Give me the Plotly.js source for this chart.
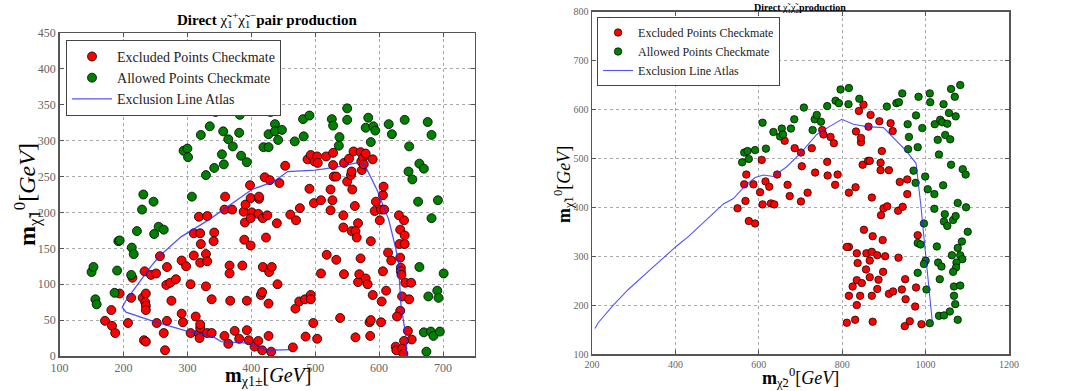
<!DOCTYPE html>
<html><head><meta charset="utf-8">
<script src="https://cdn.plot.ly/plotly-3.0.1.min.js"></script>
<style>html,body{margin:0;padding:0;background:#fff}#c{width:1070px;height:391px}</style>
</head><body><div id="c"></div>
<script>
// ---------- Left panel: chargino pair production ----------
const leftExcludedX = [171,181,182,187,194,207,212,214,230,233,235,234,235,235,232,235,243,251,252,257,263,265,268,267,273,268,275,282,291,293,291,298,305,305,310,310,313,318,319,320,320,320,321,318,320,329,329,331,331,331,338,338,342,341,359,358,358,364,366,366,367,370,374,381,386,388,390,389,391,393,393,396,399,398,401,399,399,405,411,411,412,412,415,417,417,418,418,421,423,425,427,428,427,429,432,431,440,441,444,453,461,465,469,470,475,476,485,488,484,491,493,493,493,498,497,499,503,504,503,509,509,518,517,524,524,527,528,528,529,533,533,539,544,544,545,545,550,553,556,557,557,558,560,562,563,567,563,565,567,569,571,571,572,573,575,576,579,579,582,585,586,587,587,590,590,595,593,604,601,603,603,606,607,606,611,608,614,619,632,631,633,633,634,634,635,633,628,636,639,640,640,641,647,645,651,650,639,626,627,636,638];
const leftExcludedY = [49,64,42,32,87,46,81,109,81,118,87,75,70,64,22,20,113,115,46,139,32,8,124,99,102,49,77,107,59,47,133,125,100,32,171,140,55,31,25,39,44,130,156,194,171,97,142,195,132,32,79,32,172,160,222,204,28,17,126,115,77,204,35,24,126,201,186,162,211,77,36,22,220,238,200,154,192,13,198,21,219,222,85,89,8,192,124,249,165,196,28,117,73,245,124,6,185,100,241,265,197,12,66,189,76,206,27,274,79,233,85,79,280,213,46,271,278,269,24,115,217,141,278,232,203,217,283,266,250,250,134,53,196,179,114,269,243,275,252,257,174,232,285,209,26,185,174,165,103,114,136,284,271,259,276,267,282,108,100,47,28,160,50,85,274,215,202,76,189,47,204,224,236,118,91,204,144,133,156,196,176,137,123,118,113,63,55,83,189,168,156,102,79,35,23,102,21,13,8,10,3];
const leftAllowedX = [150,153,156,158,186,190,192,194,213,216,212,221,231,229,247,255,248,263,294,300,301,307,321,329,335,344,342,354,356,357,364,369,371,382,381,384,393,419,427,427,430,437,437,442,448,468,481,482,491,526,528,538,537,550,550,583,579,591,594,587,615,620,640,647,646,652,676,682,663,670,661,692,682,663,701,677,691,693,670,681,685,695,674];
const leftAllowedY = [117,124,79,72,88,119,160,161,151,142,113,174,225,204,215,180,170,176,286,289,277,222,308,252,320,340,262,281,313,267,302,348,292,336,311,279,270,291,291,309,340,323,313,301,315,299,330,306,335,330,321,305,293,345,329,332,318,320,314,298,323,309,329,292,257,246,326,308,268,261,215,217,192,124,115,83,91,81,33,34,28,34,6];
const leftLineX = [643,643,641,634,630,626,615,597,577,565,533,500,457,435,401,371,334,290,256,243,205,198,204,248,298,340,353,395,418,426,462];
const leftLineY = [2,13,32,73,132,150,190,231,267,269,263,259,257,243,232,213,190,166,139,125,79,68,61,48,35,27,20,18,11,8,9];

// ---------- Right panel: chargino-neutralino production ----------
const rightExcludedX = [549,568,565,570,576,591,587,603,607,609,616,625,629,637,644,662,669,674,686,701,701,703,717,727,735,752,755,764,765,772,780,783,789,816,816,832,833,840,845,845,849,851,863,862,866,868,871,852,873,889,892,892,895,893,899,897,908,912,916,921,934,938,945,956,956,981,811,835,858,871,884,903,935,866,837,857,866,887,898,951,835,825,847,884,816,843,871,835,912,922,943,952,977,975,811,831,873,950,962,990];
const rightExcludedY = [398,413,447,467,372,367,447,431,497,406,453,442,408,406,467,536,446,423,521,412,512,484,430,521,471,558,549,493,465,544,531,446,467,430,319,441,555,597,533,542,487,610,565,495,495,589,420,354,341,576,491,476,515,384,398,333,402,476,572,556,393,452,401,457,427,343,319,306,306,309,302,300,297,291,286,273,257,252,268,253,251,238,245,233,219,219,219,200,223,228,232,212,236,197,164,170,166,157,167,161];
const rightAllowedX = [560,565,573,576,591,609,617,635,651,655,658,677,685,708,729,734,739,749,764,784,792,796,816,815,841,907,930,936,944,957,960,977,983,958,981,992,1010,1011,971,976,999,1005,1021,1021,1022,1029,1032,1035,1040,1042,1043,1047,1052,1056,1059,1061,1061,1072,1070,1083,1089,1096,1097,1077,1046,1044,1052,1066,1072,1101,1087,1077,1027,1063,1083,1088,1074,1073,1030,1038,1066,996,981,988,1000,996,981,1002,1034,1068,1083,1068,1071,1058,1032,1044,1077,1010];
const rightAllowedY = [492,512,515,499,517,573,520,554,545,561,549,561,580,604,558,580,589,575,607,618,613,641,644,611,622,606,613,615,633,570,544,588,626,519,523,562,633,615,475,450,463,437,427,397,570,538,508,579,574,445,611,548,571,593,539,642,487,586,626,650,478,467,400,409,386,371,362,374,382,350,330,317,320,302,302,294,287,277,287,279,268,367,327,324,291,284,266,232,253,238,240,219,202,187,178,179,170,163];
const rightLineX = [207,215,251,287,343,403,431,487,515,539,567,591,611,635,667,699,739,771,799,827,859,899,927,955,977,983,989,995,1003,1013,1016];
const rightLineY = [152,164,200,232,275,321,340,384,407,418,444,461,466,463,483,510,549,566,580,570,565,563,539,514,490,449,401,347,279,204,166];

const RED = '#ff0000', GREEN = '#008000', BLUE = 'rgba(40,40,255,0.8)';
const serif = '"Liberation Serif", "DejaVu Serif", serif';

const traces = [
  {x:leftExcludedX, y:leftExcludedY, type:'scatter', mode:'markers', name:'Excluded Points Checkmate',
   marker:{color:RED, size:9, line:{color:'#000', width:0.8}}, xaxis:'x', yaxis:'y', legend:'legend'},
  {x:leftAllowedX, y:leftAllowedY, type:'scatter', mode:'markers', name:'Allowed Points Checkmate',
   marker:{color:GREEN, size:9, line:{color:'#000', width:0.8}}, xaxis:'x', yaxis:'y', legend:'legend'},
  {x:leftLineX, y:leftLineY, type:'scatter', mode:'lines', name:'Exclusion Line Atlas',
   line:{color:BLUE, width:1.3}, xaxis:'x', yaxis:'y', legend:'legend'},
  {x:rightExcludedX, y:rightExcludedY, type:'scatter', mode:'markers', name:'Excluded Points Checkmate',
   marker:{color:RED, size:7.5, line:{color:'#000', width:0.7}}, xaxis:'x2', yaxis:'y2', legend:'legend2'},
  {x:rightAllowedX, y:rightAllowedY, type:'scatter', mode:'markers', name:'Allowed Points Checkmate',
   marker:{color:GREEN, size:7.5, line:{color:'#000', width:0.7}}, xaxis:'x2', yaxis:'y2', legend:'legend2'},
  {x:rightLineX, y:rightLineY, type:'scatter', mode:'lines', name:'Exclusion Line Atlas',
   line:{color:BLUE, width:1.1}, xaxis:'x2', yaxis:'y2', legend:'legend2'}
];

function ax(extra){
  return Object.assign({
    showline:true, mirror:'ticks', linecolor:'#555', linewidth:1.5,
    ticks:'inside', ticklen:4, tickcolor:'#555',
    showgrid:true, gridcolor:'#aaa', griddash:'dot', gridwidth:1,
    zeroline:false, tickfont:{family:serif, size:12, color:'#666'}
  }, extra);
}

const layout = {
  width:1070, height:391, margin:{l:0,r:0,t:0,b:0},
  paper_bgcolor:'#fff', plot_bgcolor:'#fff', showlegend:true,
  xaxis: ax({domain:[0.0557,0.4439], range:[100,750], dtick:100, tick0:100, anchor:'y'}),
  yaxis: ax({domain:[0.0895,0.9156], range:[0,450], dtick:50, tick0:0, anchor:'x'}),
  xaxis2: ax({domain:[0.5533,0.943], range:[200,1200], dtick:200, tick0:200, anchor:'y2',
              tickfont:{family:serif, size:10, color:'#666'}}),
  yaxis2: ax({domain:[0.0946,0.970], range:[100,800], dtick:100, tick0:100, anchor:'x2',
              tickfont:{family:serif, size:10, color:'#666'}}),
  legend:{x:0.0617, y:0.898, xanchor:'left', yanchor:'top', bgcolor:'#fff', bordercolor:'#444', borderwidth:1,
          font:{family:serif, size:14, color:'#222'}, tracegroupgap:0, itemwidth:40},
  legend2:{x:0.558, y:0.9565, xanchor:'left', yanchor:'top', bgcolor:'#fff', bordercolor:'#444', borderwidth:1,
          font:{family:serif, size:12, color:'#222'}, tracegroupgap:0, itemwidth:30},
  annotations:[
    {text:'<b>Direct</b> χ̃<sub>1</sub><sup>+</sup>χ̃<sub>1</sub><sup>−</sup><b>pair production</b>', xref:'paper', yref:'paper',
     x:0.25, y:1-20/391, xanchor:'center', yanchor:'middle', showarrow:false, font:{family:serif, size:15, color:'#000'}},
    {text:'<b>Direct</b> χ̃<sub>1</sub>χ̃<sub>2</sub><b>production</b>', xref:'paper', yref:'paper',
     x:0.748, y:1, xanchor:'center', yanchor:'top', showarrow:false, font:{family:serif, size:10, color:'#000'}},
    {text:'<b>m</b><sub>χ1±</sub>[<i>GeV</i>]', xref:'paper', yref:'paper',
     x:0.25, y:0, xanchor:'center', yanchor:'bottom', showarrow:false, font:{family:serif, size:20, color:'#000'}},
    {text:'<b>m</b><sub>χ̃1</sub><sup>0</sup>[<i>GeV</i>]', xref:'paper', yref:'paper', textangle:-90,
     x:27/1070, y:1-195/391, xanchor:'center', yanchor:'middle', showarrow:false, font:{family:serif, size:24, color:'#000'}},
    {text:'<b>m</b><sub>χ̃2</sub><sup>0</sup>[<i>GeV</i>]', xref:'paper', yref:'paper',
     x:0.748, y:1-377/391, xanchor:'center', yanchor:'middle', showarrow:false, font:{family:serif, size:18, color:'#000'}},
    {text:'<b>m</b><sub>χ̃1</sub><sup>0</sup>[<i>GeV</i>]', xref:'paper', yref:'paper', textangle:-90,
     x:563/1070, y:1-185/391, xanchor:'center', yanchor:'middle', showarrow:false, font:{family:serif, size:18, color:'#000'}}
  ]
};
Plotly.newPlot('c', traces, layout, {displayModeBar:false, staticPlot:true});
</script></body></html>
